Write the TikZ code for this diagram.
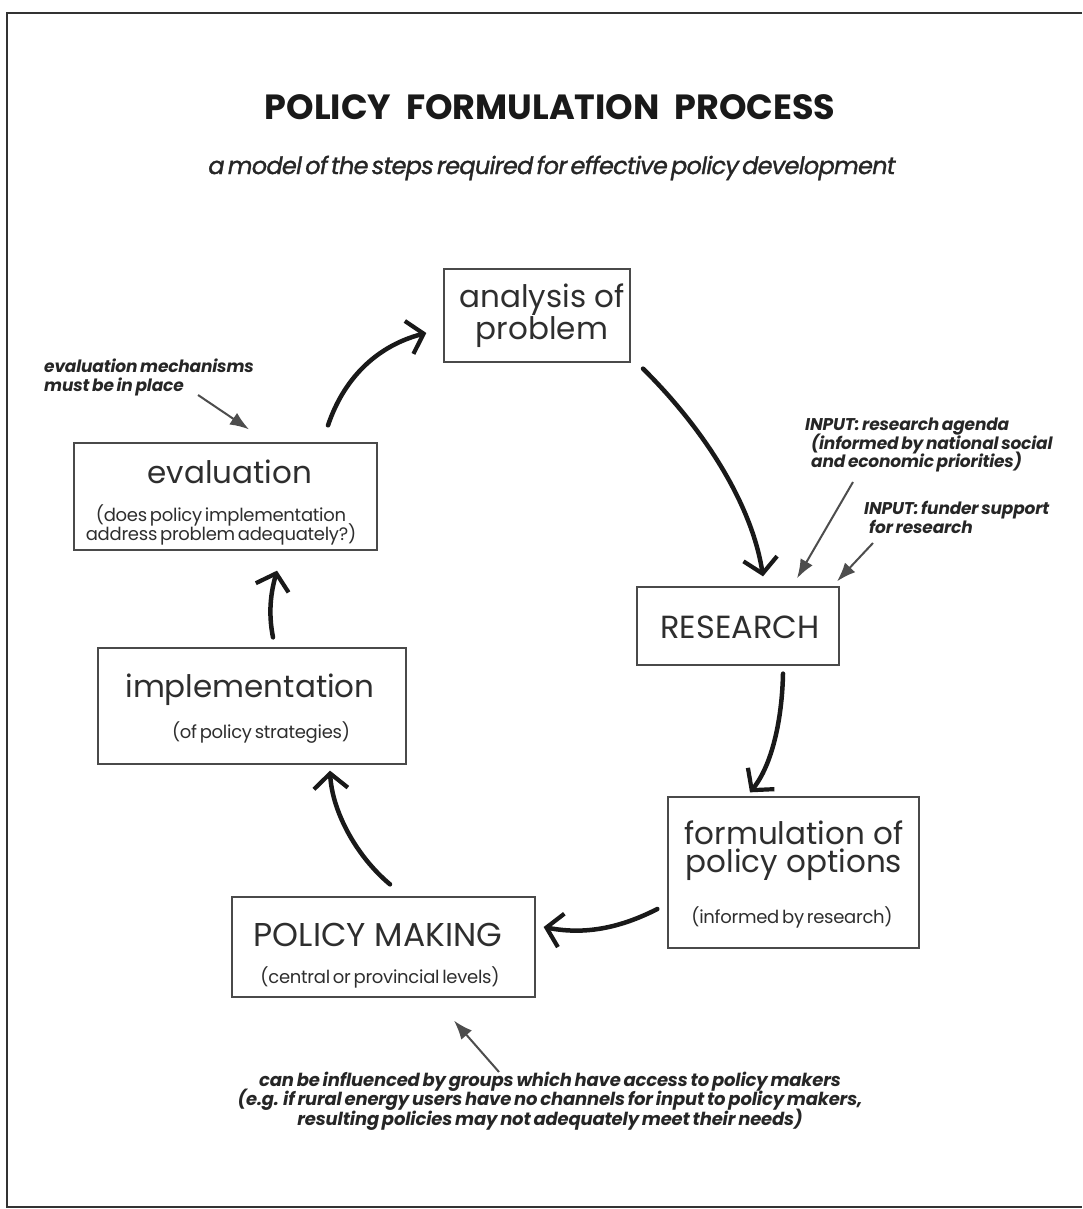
\documentclass[tikz,border=0pt]{standalone}
\usepackage{fontspec}
\setmainfont{Poppins}
\newfontfamily\tightfont[LetterSpace=-1.5,WordSpace=0.6]{Poppins}
\newfontfamily\notefont[LetterSpace=-1.0,WordSpace=0.7]{Poppins}
\newfontfamily\subfont[LetterSpace=-3.0,WordSpace=0.5,ItalicFeatures={FakeBold=1.2}]{Poppins}
\usetikzlibrary{arrows.meta,calc}
\definecolor{ink}{HTML}{2E2E2E}
\definecolor{boxline}{HTML}{4A4A4A}
\definecolor{hintgray}{HTML}{4D4D4D}
\tikzset{
  box/.style={draw=boxline, line width=1.3pt, inner sep=0pt, fill=none},
  big/.style={text=ink, font=\fontsize{31}{33}\selectfont, inner sep=0pt, align=center},
  small/.style={text=ink, font=\tightfont\fontsize{18}{18.5}\selectfont, inner sep=0pt, align=center},
  note/.style={text=black!85, font=\notefont\bfseries\itshape\fontsize{17}{18.5}\selectfont, inner sep=0pt},
  flow/.style={line width=4.5pt, black!90, line cap=round,
    -{Straight Barb[length=15pt,width=34pt,line width=4.2pt]}},
  hint/.style={line width=2pt, draw=hintgray, -{Latex[length=19pt,width=14pt]}},
  frameline/.style={draw=black!80, line width=1.6pt}
}
\begin{document}
\lineskiplimit=-100pt\relax
\begin{tikzpicture}[x=1pt,y=-1pt]
\useasboundingbox (0,0) rectangle (1082,1209);
\fill[white] (0,0) rectangle (1082,1209);
\draw[frameline] (1082,13) -- (7,13) -- (7,1207) -- (1082,1207);

% titles
\node[inner sep=0pt, font=\bfseries\fontsize{35}{37}\selectfont, text=black!90] (title) at (550,107) {POLICY\ \ FORMULATION\ \ PROCESS};
\node[inner sep=0pt, font=\subfont\itshape\fontsize{24}{26}\selectfont, text=black!85] (subtitle) at (552,168) {a model of the steps required for effective policy development};

% boxes
\node[box, minimum width=186pt, minimum height=93pt] (analysis) at (537,315.5) {};
\node[box, minimum width=303pt, minimum height=107pt] (eval) at (225.5,496.5) {};
\node[box, minimum width=202pt, minimum height=78pt] (research) at (738,626) {};
\node[box, minimum width=308pt, minimum height=116pt] (impl) at (252,706) {};
\node[box, minimum width=251pt, minimum height=151pt] (formul) at (793.5,872.5) {};
\node[box, minimum width=303pt, minimum height=100pt] (pm) at (383.5,947) {};

% box texts
\node[big] (analysisT1) at (542,300) {analysis of};
\node[big] (analysisT2) at (542,332) {problem};
\node[big] (evalT) at (230,472) {evaluation};
\node[small] (evalS) at (221,525) {(does policy implementation\\address problem adequately?)};
\node[big, font=\fontsize{32}{34}\selectfont] (researchT) at (740,627) {RESEARCH};
\node[big] (implT) at (250,690) {implementation};
\node[small] (implS) at (261,733) {(of policy strategies)};
\node[big] (formulT1) at (794,833) {formulation of};
\node[big] (formulT2) at (794,865) {policy options};
\node[small] (formulS) at (792,917) {(informed by research)};
\node[big, font=\fontsize{33}{35}\selectfont] (pmT) at (378,935) {POLICY MAKING};
\node[small] (pmS) at (380,977) {(central or provincial levels)};

% notes
\node[note, anchor=west, align=left] (noteEval) at (44,377.5) {evaluation mechanisms\\must be in place};
\node[note, anchor=west, align=left] (noteAgenda) at (805,445) {INPUT: research agenda\\\hspace*{6pt}(informed by national social\\\hspace*{6pt}and economic priorities)};
\node[note, anchor=west, align=left] (noteFunder) at (864,517.5) {INPUT: funder support\\\hspace*{5pt}for research};
\node[note, align=center, font=\notefont\bfseries\itshape\fontsize{18}{19.5}\selectfont] (noteGroups) at (550,1101) {can be influenced by groups which have access to policy makers\\(e.g. if rural energy users have no channels for input to policy makers,\\resulting policies may not adequately meet their needs)};

% tails of the thin arrows
\coordinate (evalTail) at (198,395);
\coordinate (agendaTail) at (853,482);
\coordinate (funderTail) at (873,543);
\coordinate (groupsTail) at (499,1072);

% main cycle
\draw[flow] ([shift={(102.5,-17)}]eval.north) .. controls (345,375) and (380,345) .. ([shift={(-17,17.5)}]analysis.west);
\draw[flow] ([shift={(106,6)}]analysis.south) .. controls (705,430) and (752,505) .. ([shift={(25,-10)}]research.north);
\draw[flow] ([shift={(45,8)}]research.south) .. controls (782,720) and (772,765) .. ([shift={(-43.5,-4)}]formul.north);
\draw[flow] ([shift={(-10,36.5)}]formul.west) .. controls (620,928) and (585,935) .. ([shift={(8,-20)}]pm.east);
\draw[flow] ([shift={(6.5,-12)}]pm.north) .. controls (355,855) and (332,810) .. ([shift={(78,6)}]impl.south);
\draw[flow] ([shift={(21,-10)}]impl.north) .. controls (268,612) and (271,592) .. ([shift={(51.5,20)}]eval.south);

% thin input arrows
\draw[hint] (evalTail) -- ([shift={(23.5,-13)}]eval.north);
\draw[hint] (agendaTail) -- ([shift={(59,-8)}]research.north);
\draw[hint] (funderTail) -- ([shift={(99,-5)}]research.north);
\draw[hint] (groupsTail) -- ([shift={(70.5,23)}]pm.south);
\end{tikzpicture}
\end{document}
